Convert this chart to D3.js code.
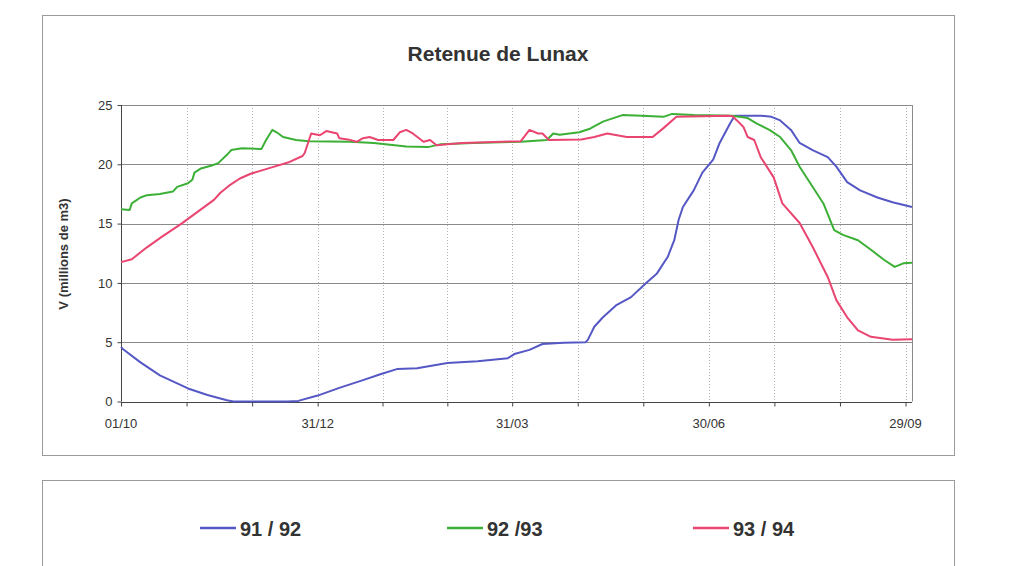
<!DOCTYPE html>
<html>
<head>
<meta charset="utf-8">
<script src="https://cdn.jsdelivr.net/npm/d3@7"></script>
<style>
  body { margin: 0; background: #fff; }
  svg { display: block; font-family: Arial, "Liberation Sans", sans-serif; }
</style>
</head>
<body>
<svg id="chart" width="1017" height="566"></svg>
<script>
// data, x = days since 01/10
var title = "Retenue de Lunax";
var yTitle = "V (millions de m3)";
var seriesNames = ["91 / 92", "92 /93", "93 / 94"];
var tickDays = [0, 91, 181, 272, 363];
var tickLabels = ["01/10", "31/12", "31/03", "30/06", "29/09"];
var yTicks = [0, 5, 10, 15, 20, 25];

var days9192 = [0, 1, 9, 18, 31, 40, 49, 52, 77, 82, 91, 101, 112, 120, 128, 137, 151, 165, 179, 182, 189, 195, 205, 215, 216, 219, 223, 229, 236, 243, 248, 253, 256, 258, 260, 265, 269, 274, 277, 282, 284, 296, 301, 305, 310, 314, 320, 327, 331, 336, 342, 350, 357, 366];
var vol9192 = [4.6, 4.4, 3.3, 2.2, 1.1, 0.55, 0.1, 0, 0, 0.05, 0.5, 1.15, 1.8, 2.3, 2.75, 2.8, 3.25, 3.4, 3.65, 4.0, 4.35, 4.85, 4.95, 5.0, 5.2, 6.3, 7.1, 8.1, 8.8, 10.0, 10.8, 12.2, 13.6, 15.3, 16.4, 17.8, 19.3, 20.4, 21.8, 23.5, 24.1, 24.1, 24.0, 23.7, 22.9, 21.8, 21.2, 20.6, 19.8, 18.5, 17.8, 17.2, 16.8, 16.4];

var days9293 = [0, 4, 5, 9, 12, 18, 24, 26, 31, 33, 34, 37, 42, 45, 49, 51, 56, 65, 67, 70, 72, 75, 81, 87, 106, 117, 132, 142, 148, 163, 185, 197, 200, 203, 212, 217, 223, 232, 241, 251, 255, 265, 283, 290, 294, 300, 305, 310, 314, 320, 325, 330, 334, 341, 347, 353, 358, 362, 366];
var vol9293 = [16.2, 16.15, 16.7, 17.2, 17.4, 17.5, 17.7, 18.1, 18.4, 18.7, 19.3, 19.65, 19.9, 20.1, 20.8, 21.2, 21.35, 21.3, 22.0, 22.9, 22.7, 22.3, 22.05, 21.95, 21.9, 21.8, 21.5, 21.45, 21.7, 21.8, 21.9, 22.05, 22.6, 22.5, 22.7, 23.0, 23.6, 24.15, 24.1, 24.0, 24.25, 24.15, 24.1, 23.9, 23.45, 22.9, 22.3, 21.2, 19.8, 18.1, 16.7, 14.45, 14.05, 13.6, 12.8, 11.95, 11.35, 11.65, 11.7];

var days9394 = [0, 5, 12, 19, 28, 37, 43, 46, 50, 55, 60, 69, 78, 84, 85, 87, 88, 92, 95, 100, 101, 105, 109, 112, 115, 119, 126, 129, 132, 135, 140, 143, 146, 151, 158, 185, 189, 193, 195, 198, 213, 219, 225, 234, 246, 251, 257, 281, 283, 285, 288, 290, 293, 296, 302, 306, 314, 320, 327, 331, 336, 341, 347, 357, 366];
var vol9394 = [11.75, 12.0, 13.0, 13.9, 15.0, 16.2, 17.0, 17.6, 18.2, 18.8, 19.2, 19.7, 20.2, 20.7, 20.95, 22.05, 22.6, 22.45, 22.8, 22.6, 22.2, 22.1, 21.9, 22.2, 22.3, 22.05, 22.05, 22.7, 22.9, 22.6, 21.9, 22.05, 21.6, 21.7, 21.8, 21.95, 22.9, 22.6, 22.6, 22.05, 22.1, 22.3, 22.6, 22.3, 22.3, 23.05, 24.0, 24.1, 24.05, 23.7, 23.15, 22.3, 22.05, 20.6, 18.9, 16.7, 15.05, 13.05, 10.5, 8.55, 7.1, 6.0, 5.45, 5.2, 5.25];

var colors = ["#5558c4", "#3cb036", "#ea4470"];

var svg = d3.select("#chart");

// outer chart frame and legend frame
svg.append("rect").attr("x", 42.5).attr("y", 15.5).attr("width", 912).attr("height", 440)
    .attr("fill", "#fff").attr("stroke", "#9a9a9a");
svg.append("rect").attr("x", 42.5).attr("y", 480.5).attr("width", 912).attr("height", 100)
    .attr("fill", "#fff").attr("stroke", "#9a9a9a");

svg.append("text").attr("x", 498).attr("y", 61).attr("text-anchor", "middle")
    .style("font-size", "21px").style("font-weight", "bold").attr("fill", "#333")
    .text(title);

var x = d3.scaleLinear().domain([0, 366]).range([121, 912]);
var y = d3.scaleLinear().domain([0, 25]).range([401.5, 105]);

// minor grid every third of a labelled interval
var gridDays = [];
for (var i = 0; i < tickDays.length - 1; i++) {
    var a = tickDays[i], b = tickDays[i + 1];
    gridDays.push(a + (b - a) / 3, a + 2 * (b - a) / 3, b);
}

var g = svg.append("g");

g.selectAll(".vgrid").data(gridDays).enter().append("line")
    .attr("x1", function(d) { return Math.round(x(d)) + 0.5; })
    .attr("x2", function(d) { return Math.round(x(d)) + 0.5; })
    .attr("y1", y(25)).attr("y2", y(0))
    .attr("stroke", "#b4b4b4").attr("stroke-dasharray", "1,2");

g.selectAll(".hgrid").data(yTicks.slice(1)).enter().append("line")
    .attr("x1", x(0)).attr("x2", x(366))
    .attr("y1", function(d) { return Math.round(y(d)) + 0.5; })
    .attr("y2", function(d) { return Math.round(y(d)) + 0.5; })
    .attr("stroke", "#8a8a8a");

// right border of plot area
g.append("line").attr("x1", x(366) + 0.5).attr("x2", x(366) + 0.5)
    .attr("y1", y(25)).attr("y2", y(0)).attr("stroke", "#8a8a8a");

// axes
var xAxis = d3.axisBottom(x).tickValues([0].concat(gridDays)).tickSize(4).tickFormat("");
var xg = svg.append("g").attr("transform", "translate(0," + (Math.round(y(0)) + 0.5) + ")").call(xAxis);
xg.select(".domain").attr("d", "M" + x(0) + ",0H" + x(366)).attr("stroke", "#444");
xg.selectAll(".tick line").attr("stroke", "#444");

svg.selectAll(".xlab").data(tickDays).enter().append("text")
    .attr("x", function(d) { return x(d); }).attr("y", 428)
    .attr("text-anchor", "middle").style("font-size", "13px").attr("fill", "#333")
    .text(function(d, i) { return tickLabels[i]; });

var yAxis = d3.axisLeft(y).tickValues(yTicks).tickSize(4).tickPadding(5);
var yg = svg.append("g").attr("transform", "translate(" + (x(0) + 0.5) + ",0)").call(yAxis);
yg.select(".domain").attr("d", "M0," + y(25) + "V" + y(0)).attr("stroke", "#444");
yg.selectAll(".tick line").attr("stroke", "#444");
yg.selectAll(".tick text").style("font-size", "13px").style("font-family", "Arial, 'Liberation Sans', sans-serif").attr("fill", "#333");

svg.append("text").attr("transform", "translate(68,254) rotate(-90)")
    .attr("text-anchor", "middle").style("font-size", "13px").style("font-weight", "bold")
    .attr("fill", "#333").text(yTitle);

// series
var series = [
    { name: seriesNames[0], days: days9192, vol: vol9192 },
    { name: seriesNames[1], days: days9293, vol: vol9293 },
    { name: seriesNames[2], days: days9394, vol: vol9394 }
];

var line = d3.line()
    .x(function(d) { return x(d[0]); })
    .y(function(d) { return y(d[1]); });

series.forEach(function(s, i) {
    var pts = s.days.map(function(d, j) { return [d, s.vol[j]]; });
    svg.append("path").datum(pts)
        .attr("d", line)
        .attr("fill", "none")
        .attr("stroke", colors[i])
        .attr("stroke-width", 2)
        .attr("stroke-linejoin", "round");
});

// legend
var legX = [200, 447, 693];
var leg = svg.selectAll(".leg").data(series).enter().append("g")
    .attr("transform", function(d, i) { return "translate(" + legX[i] + ",528)"; });
leg.append("line").attr("x1", 0).attr("x2", 36).attr("y1", 0).attr("y2", 0)
    .attr("stroke", function(d, i) { return colors[i]; }).attr("stroke-width", 2.5);
leg.append("text").attr("x", 40).attr("y", 7.5)
    .style("font-size", "20px").style("font-weight", "bold").attr("fill", "#333")
    .text(function(d) { return d.name; });
</script>
</body>
</html>
